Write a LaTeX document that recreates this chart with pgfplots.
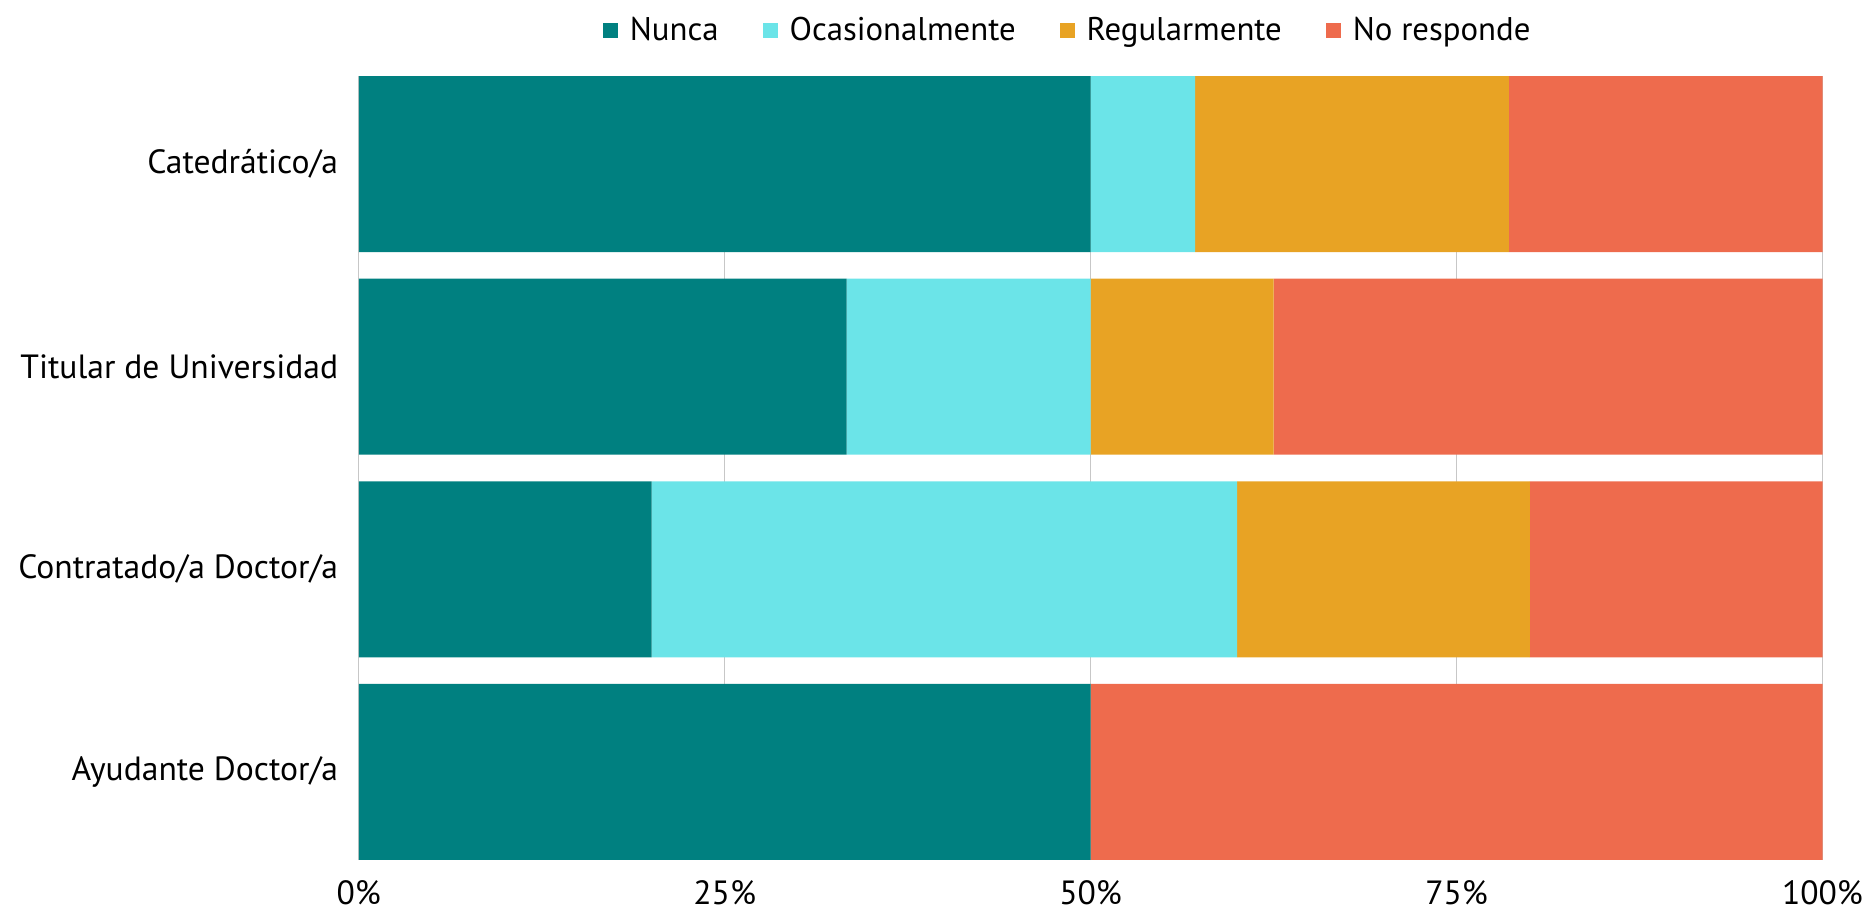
\documentclass[border=0pt]{standalone}
\usepackage{pgfplots}
\pgfplotsset{compat=1.18}
\usepackage{fontspec}
\setmainfont{PT Sans}

\definecolor{nunca}{HTML}{008080}
\definecolor{ocasional}{HTML}{6BE4E8}
\definecolor{regular}{HTML}{E8A324}
\definecolor{noresp}{HTML}{EE6B4D}

\begin{document}
\begin{tikzpicture}
\useasboundingbox (0,0) rectangle (931.5pt,455pt);
\begin{axis}[
  at={(179.4pt,25pt)}, anchor=south west,
  scale only axis, width=731.85pt, height=392pt,
  xbar stacked, bar width=88pt,
  xmin=0, xmax=100, ymin=-0.4356, ymax=3.4356,
  xtick={0,25,50,75,100},
  xticklabel={\pgfmathprintnumber{\tick}\%},
  ytick={0,1,2,3},
  yticklabels={Ayudante Doctor/a, Contratado/a Doctor/a, Titular de Universidad, Catedrático/a},
  axis line style={draw=none}, tick style={draw=none},
  xmajorgrids, grid style={black!22, line width=0.6pt},
  ticklabel style={font=\fontsize{16.8}{20}\selectfont},
  /pgf/number format/assume math mode=true,
  xticklabel style={yshift=-6.5pt},
  yticklabel style={xshift=-6.8pt},
  legend style={at={(0.5,1)}, anchor=south, xshift=-11pt, yshift=12pt,
    draw=none, legend columns=-1, font=\fontsize{16.4}{20}\selectfont,
    /tikz/every odd column/.append style={column sep=4pt},
    /tikz/every even column/.append style={column sep=20pt}},
  legend image code/.code={\fill[#1] (0pt,-3.75pt) rectangle (7.5pt,3.75pt);},
]
\addplot[fill=nunca, draw=none] coordinates {(50,3) (33.33,2) (20,1) (50,0)};
\addplot[fill=ocasional, draw=none] coordinates {(7.14,3) (16.67,2) (40,1) (0,0)};
\addplot[fill=regular, draw=none] coordinates {(21.43,3) (12.5,2) (20,1) (0,0)};
\addplot[fill=noresp, draw=none] coordinates {(21.43,3) (37.5,2) (20,1) (50,0)};
\legend{Nunca, Ocasionalmente, Regularmente, No responde}
\end{axis}
\end{tikzpicture}
\end{document}
